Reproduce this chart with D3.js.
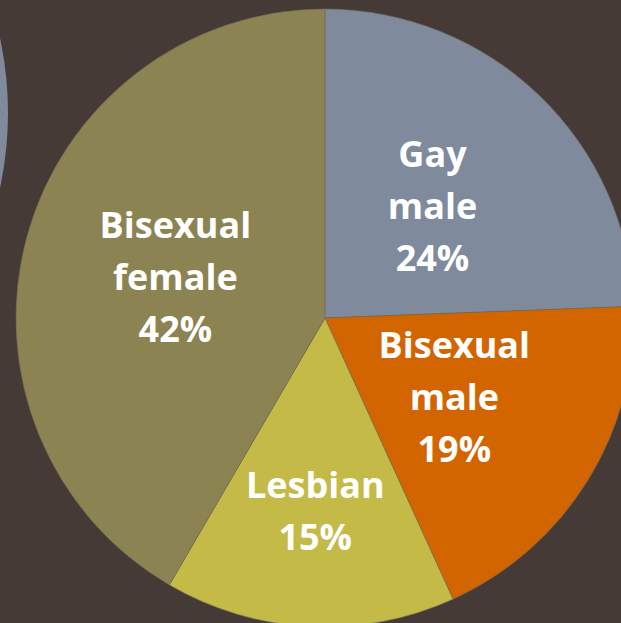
<!DOCTYPE html>
<html>
<head>
<meta charset="utf-8">
<script src="https://cdn.jsdelivr.net/npm/d3@7"></script>
<style>
    html, body { margin: 0; padding: 0; background: #463a36; overflow: hidden; }
    svg { display: block; }
    .label { font-family: "Open Sans", Lato, sans-serif; font-weight: 700; fill: #ffffff; }
</style>
</head>
<body>
<div id="chart"></div>
<script>
const categories = ["Gay male", "Bisexual male", "Lesbian", "Bisexual female"];
const values = [24.4, 18.8, 15.2, 41.6];
const labelLines = [["Gay", "male", "24%"], ["Bisexual", "male", "19%"], ["Lesbian", "15%"], ["Bisexual", "female", "42%"]];
const colors = ["#7f8b9d", "#d26500", "#c4ba47", "#8b8452"];

const width = 621, height = 623;
const cx = 325, cy = 318, radius = 309;

const svg = d3.select("#chart").append("svg")
    .attr("width", width)
    .attr("height", height);

// background
svg.append("rect")
    .attr("width", width)
    .attr("height", height)
    .attr("fill", "#463a36");

// partial circle of the neighbouring chart on the left
svg.append("circle")
    .attr("cx", -347)
    .attr("cy", 113)
    .attr("r", 355)
    .attr("fill", "#7f8b9d");

const data = categories.map((c, i) => ({name: c, value: values[i], lines: labelLines[i], color: colors[i]}));

const pie = d3.pie()
    .sort(null)
    .value(d => d.value);

const arc = d3.arc()
    .innerRadius(0)
    .outerRadius(radius);

const g = svg.append("g")
    .attr("transform", "translate(" + cx + "," + cy + ")");

const arcs = pie(data);

g.selectAll("path.slice")
    .data(arcs)
    .enter()
    .append("path")
    .attr("class", "slice")
    .attr("d", arc)
    .attr("fill", d => d.data.color)
    .attr("stroke", "#6f6a55")
    .attr("stroke-width", 0.6);

// label radius per slice (lesbian label sits further out)
const labelRadius = [155, 152, 194, 155];
const fontSize = 36, lineHeight = 52;

arcs.forEach((a, i) => {
    const la = d3.arc().innerRadius(labelRadius[i]).outerRadius(labelRadius[i]);
    const [x, y] = la.centroid(a);
    const lines = a.data.lines;
    const text = g.append("text")
        .attr("class", "label")
        .attr("text-anchor", "middle")
        .style("font-size", fontSize + "px");
    lines.forEach((l, j) => {
        text.append("tspan")
            .attr("x", x)
            .attr("y", y + (j - (lines.length - 1) / 2) * lineHeight + fontSize * 0.35)
            .text(l);
    });
});
</script>
</body>
</html>
